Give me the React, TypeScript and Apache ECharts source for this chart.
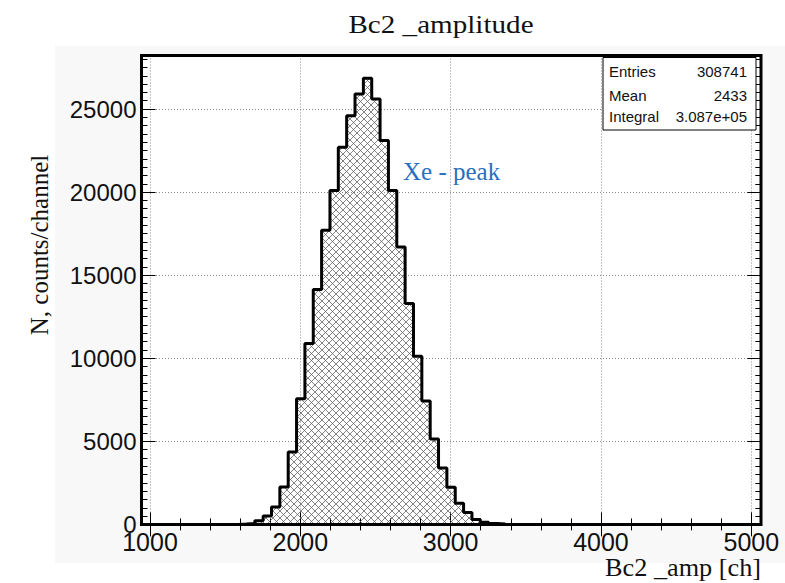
import React, { useEffect, useRef } from "react";
import * as echarts from "echarts";

// Histogram binning (channels)
const BIN_START = 1586;
const BIN_WIDTH = 55.56;
// Counts per bin
const counts = [
  20, 60, 220, 500, 1040, 2250, 4355, 7570, 10890, 14140, 17700, 20100, 22700,
  24600, 25900, 26850, 25600, 23100, 20100, 16700, 13300, 10120, 7430, 5140,
  3390, 2230, 1280, 710, 300, 130, 50, 20,
];

const X_MIN = 1000;
const X_MAX = 5000;
const Y_MAX = 28223;

const statsLabels = ["Entries", "Mean", "Integral"];
const statsValues = ["308741", "2433", "3.087e+05"];

const titleText = "Bc2 _amplitude";
const xTitle = "Bc2 _amp [ch]";
const yTitle = "N, counts/channel";
const peakLabel = "Xe - peak";

const hatchSvg =
  "<svg xmlns='http://www.w3.org/2000/svg' width='7' height='7'>" +
  "<path d='M0 0L7 7M7 0L0 7' stroke='#5a5a5a' stroke-width='0.75' fill='none'/></svg>";
const hatchUrl = "data:image/svg+xml;charset=utf-8," + encodeURIComponent(hatchSvg);

export default function App() {
  const ref = useRef<HTMLDivElement>(null);

  useEffect(() => {
    if (!ref.current) return;
    const chart = echarts.init(ref.current, undefined, { renderer: "svg" });

    const pts: [number, number][] = [];
    pts.push([BIN_START, 0]);
    counts.forEach((c, i) => pts.push([BIN_START + i * BIN_WIDTH, c]));
    pts.push([BIN_START + counts.length * BIN_WIDTH, 0]);

    const sans = "'Liberation Sans', Arial, sans-serif";
    const serif = "'Liberation Serif', 'Times New Roman', serif";
    const gridLine = { show: true, lineStyle: { color: "#8a8a8a", width: 1, type: [1, 2] } };

    const xBase = {
      type: "value",
      min: X_MIN,
      max: X_MAX,
      interval: 1000,
      axisLine: { show: false },
      axisTick: { show: true, inside: true, length: 12, lineStyle: { color: "#000", width: 1 } },
      minorTick: { show: true, splitNumber: 5, length: 6, lineStyle: { color: "#000", width: 1 } },
    };

    const yMajor = {
      type: "value",
      min: 0,
      max: Y_MAX,
      interval: 5000,
      axisLine: { show: false },
      axisTick: { show: true, inside: true, length: 14, lineStyle: { color: "#000", width: 1 } },
    };
    const yMinor = {
      type: "value",
      min: 0,
      max: Y_MAX,
      interval: 500,
      axisLine: { show: false },
      axisLabel: { show: false },
      splitLine: { show: false },
      axisTick: { show: true, inside: true, length: 6, lineStyle: { color: "#000", width: 1 } },
    };

    const frame = { x: 141.5, y: 55.5, w: 619.5, h: 468.9 };

    chart.setOption({
      animation: false,
      backgroundColor: "#ffffff",
      grid: { left: 150, right: 33.7, top: 55.5, bottom: 58.6, containLabel: false, outerBoundsMode: "none" },
      xAxis: [
        {
          ...xBase,
          position: "bottom",
          axisLabel: {
            show: true,
            fontSize: 25,
            fontFamily: sans,
            color: "#111",
            margin: 5,
            formatter: (v: number) => String(v),
          },
          splitLine: gridLine,
        },
        {
          ...xBase,
          position: "top",
          axisLabel: { show: false },
          splitLine: { show: false },
        },
      ],
      yAxis: [
        {
          ...yMajor,
          position: "left",
          offset: 8.5,
          axisLabel: {
            show: true,
            fontSize: 24,
            fontFamily: sans,
            color: "#111",
            margin: 5,
            showMaxLabel: false,
            formatter: (v: number) => (v % 5000 === 0 ? String(v) : ""),
          },
          splitLine: gridLine,
        },
        { ...yMinor, position: "left", offset: 8.5 },
        { ...yMajor, position: "right", offset: 10, axisLabel: { show: false }, splitLine: { show: false } },
        { ...yMinor, position: "right", offset: 10 },
      ],
      series: [
        {
          type: "line",
          xAxisIndex: 0,
          yAxisIndex: 0,
          step: "end",
          symbol: "none",
          data: pts,
          lineStyle: { color: "#000", width: 3 },
          areaStyle: {
            color: { image: hatchUrl, repeat: "repeat", imageWidth: 7, imageHeight: 7 },
            opacity: 1,
          },
          z: 5,
        },
      ],
      graphic: [
        {
          type: "rect",
          z: -20,
          shape: { x: 55, y: 46, width: 730, height: 517 },
          style: { fill: "#f8f8f8" },
        },
        {
          type: "rect",
          z: -10,
          shape: { x: frame.x, y: frame.y, width: frame.w, height: frame.h },
          style: { fill: "#ffffff" },
        },
        {
          type: "rect",
          z: 100,
          shape: { x: frame.x, y: frame.y, width: frame.w, height: frame.h },
          style: { fill: "none", stroke: "#000", lineWidth: 3 },
        },
        {
          type: "rect",
          z: 101,
          shape: { x: 603, y: 57.5, width: 153, height: 72.5 },
          style: { fill: "#ffffff", stroke: "#000", lineWidth: 1 },
        },
        ...statsLabels.map((t, i) => ({
          type: "text",
          z: 102,
          x: 609,
          y: [71, 95, 116][i],
          style: { text: t, fontSize: 15, fontFamily: sans, fill: "#111", align: "left", verticalAlign: "middle" },
        })),
        ...statsValues.map((t, i) => ({
          type: "text",
          z: 102,
          x: 747,
          y: [71, 95, 116][i],
          style: { text: t, fontSize: 15, fontFamily: sans, fill: "#111", align: "right", verticalAlign: "middle" },
        })),
        {
          type: "text",
          z: 102,
          x: 441,
          y: 24,
          scaleX: 1.12,
          style: { text: titleText, fontSize: 26, fontFamily: serif, fill: "#111", align: "center", verticalAlign: "middle" },
        },
        {
          type: "text",
          z: 102,
          x: 761,
          y: 568,
          scaleX: 1.05,
          style: { text: xTitle, fontSize: 25, fontFamily: serif, fill: "#111", align: "right", verticalAlign: "middle" },
        },
        {
          type: "text",
          z: 102,
          x: 39,
          y: 245,
          rotation: Math.PI / 2,
          style: { text: yTitle, fontSize: 25, fontFamily: serif, fill: "#111", align: "center", verticalAlign: "middle" },
        },
        {
          type: "text",
          z: 102,
          x: 403,
          y: 171,
          style: { text: peakLabel, fontSize: 25, fontFamily: serif, fill: "#2a6fbd", align: "left", verticalAlign: "middle" },
        },
      ],
    });

    return () => chart.dispose();
  }, []);

  return (
    <div
      ref={ref}
      style={{ position: "fixed", left: 0, top: 0, width: 785, height: 583 }}
    />
  );
}
